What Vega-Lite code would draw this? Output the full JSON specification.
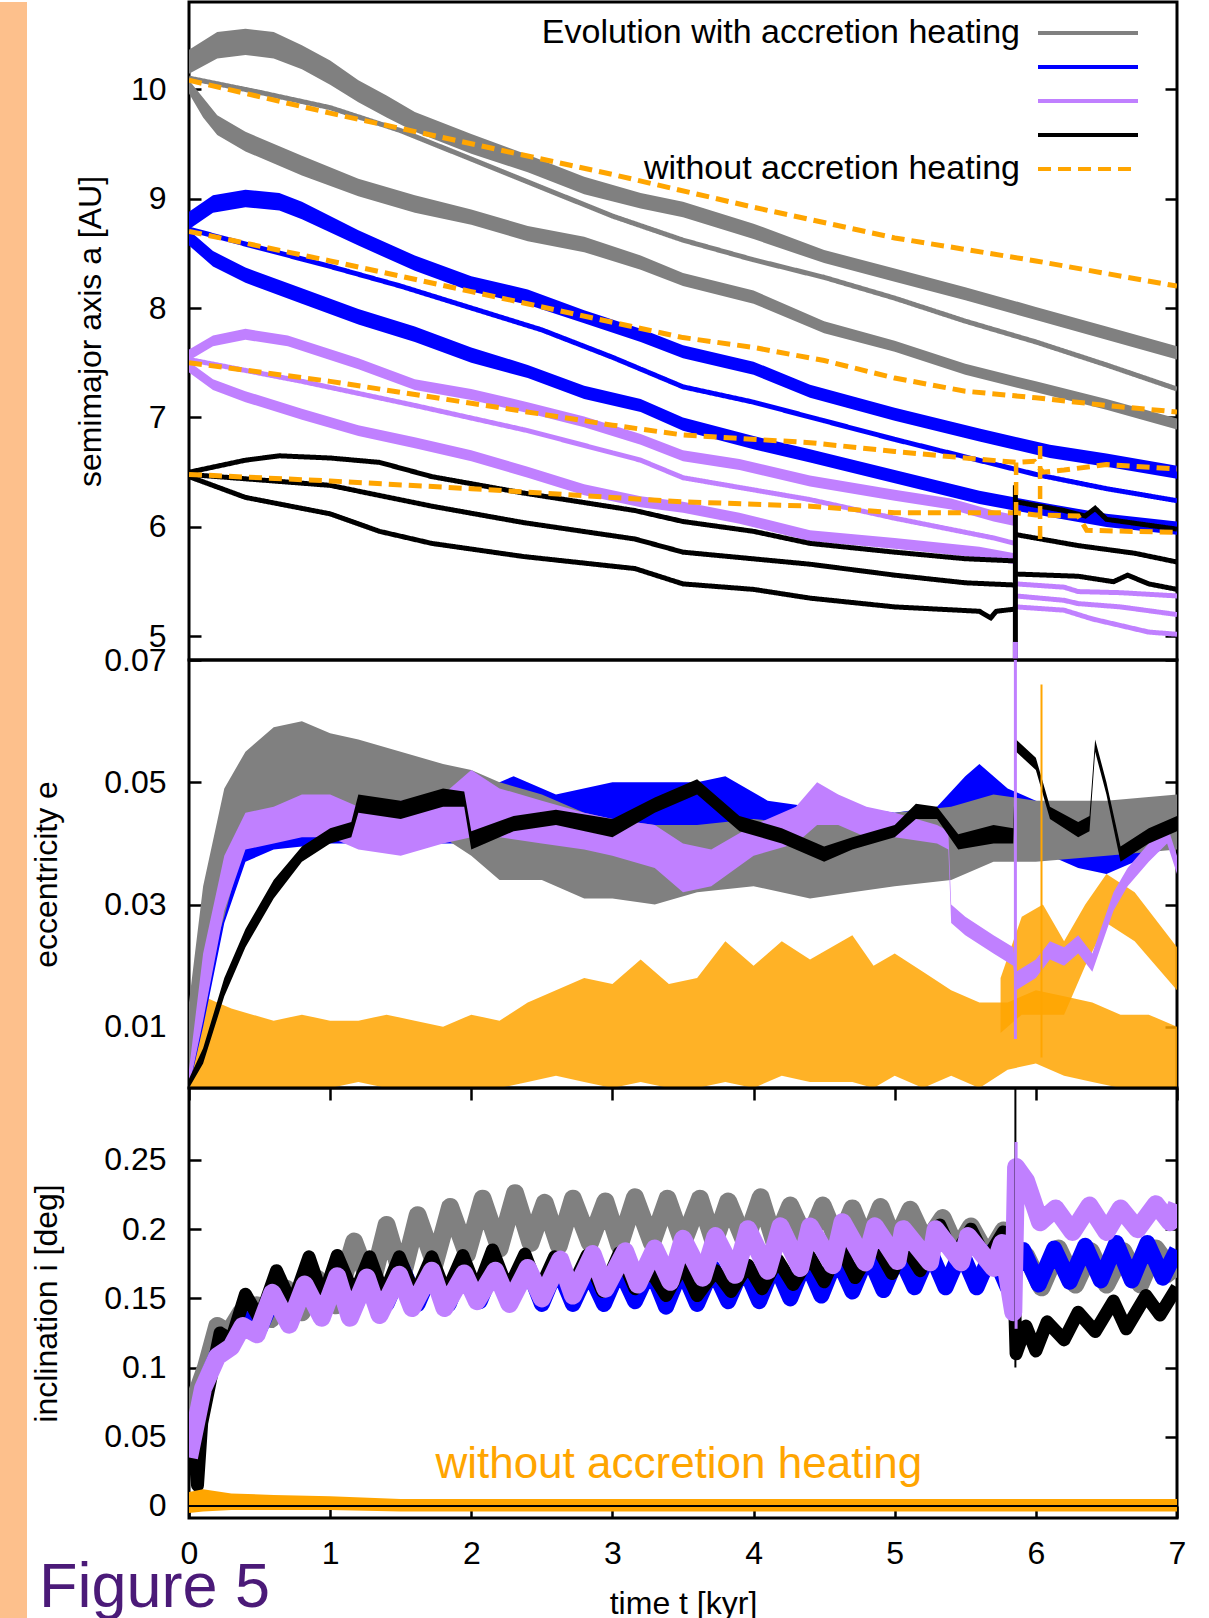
{
"$schema": "https://vega.github.io/schema/vega-lite/v6.json",
"padding": 0,
"background": "white",
"spacing": 1,
"title": {"text": "Figure 5", "orient": "bottom", "anchor": "start", "frame": "bounds", "fontSize": 63, "font": "Liberation Sans", "fontWeight": "normal", "color": "#4b1a78", "offset": -85, "dx": 39},
"config": {
 "view": {"stroke": "black", "strokeWidth": 3},
 "axis": {"domain": false, "grid": false, "ticks": true, "tickSize": -12, "tickWidth": 2.5, "tickColor": "black", "labelFont": "Liberation Sans", "labelFontSize": 32, "labelColor": "black", "labelPadding": 35, "titleFont": "Liberation Sans", "titleFontSize": 32, "titleFontWeight": "normal", "titleColor": "black", "labelFlush": false, "labelOverlap": false}
},
"datasets": {
 "ab1": [
  {"k":"u","t":0,"lo":10.14,"hi":10.36},{"k":"u","t":0.2,"lo":10.28,"hi":10.52},{"k":"u","t":0.4,"lo":10.31,"hi":10.55},{"k":"u","t":0.6,"lo":10.28,"hi":10.52},{"k":"u","t":0.8,"lo":10.18,"hi":10.4},{"k":"u","t":1,"lo":10.04,"hi":10.26},{"k":"u","t":1.2,"lo":9.88,"hi":10.08},{"k":"u","t":1.4,"lo":9.74,"hi":9.94},{"k":"u","t":1.6,"lo":9.61,"hi":9.79},{"k":"u","t":2,"lo":9.41,"hi":9.59},{"k":"u","t":2.4,"lo":9.24,"hi":9.4},{"k":"u","t":2.8,"lo":9.04,"hi":9.2},{"k":"u","t":3.2,"lo":8.91,"hi":9.05},{"k":"u","t":3.5,"lo":8.83,"hi":8.97},{"k":"u","t":4,"lo":8.63,"hi":8.77},{"k":"u","t":4.5,"lo":8.41,"hi":8.53},{"k":"u","t":5,"lo":8.24,"hi":8.36},{"k":"u","t":5.5,"lo":8.07,"hi":8.19},{"k":"u","t":6,"lo":7.89,"hi":8.01},{"k":"u","t":6.5,"lo":7.71,"hi":7.83},{"k":"u","t":7,"lo":7.53,"hi":7.65},
  {"k":"l","t":0,"lo":9.96,"hi":10.08},{"k":"l","t":0.1,"lo":9.74,"hi":9.92},{"k":"l","t":0.2,"lo":9.58,"hi":9.76},{"k":"l","t":0.4,"lo":9.43,"hi":9.61},{"k":"l","t":0.8,"lo":9.21,"hi":9.39},{"k":"l","t":1.2,"lo":9.02,"hi":9.18},{"k":"l","t":1.6,"lo":8.87,"hi":9.03},{"k":"l","t":2,"lo":8.76,"hi":8.9},{"k":"l","t":2.4,"lo":8.61,"hi":8.75},{"k":"l","t":2.8,"lo":8.51,"hi":8.65},{"k":"l","t":3.2,"lo":8.35,"hi":8.48},{"k":"l","t":3.5,"lo":8.2,"hi":8.32},{"k":"l","t":4,"lo":8.04,"hi":8.16},{"k":"l","t":4.5,"lo":7.77,"hi":7.88},{"k":"l","t":5,"lo":7.6,"hi":7.7},{"k":"l","t":5.5,"lo":7.39,"hi":7.49},{"k":"l","t":6,"lo":7.23,"hi":7.33},{"k":"l","t":6.5,"lo":7.07,"hi":7.17},{"k":"l","t":7,"lo":6.89,"hi":6.99}
 ],
 "ab2": [
  {"k":"u","t":0,"lo":8.72,"hi":8.88},{"k":"u","t":0.17,"lo":8.87,"hi":9.03},{"k":"u","t":0.4,"lo":8.92,"hi":9.08},{"k":"u","t":0.64,"lo":8.89,"hi":9.05},{"k":"u","t":0.8,"lo":8.81,"hi":8.97},{"k":"u","t":1.2,"lo":8.57,"hi":8.71},{"k":"u","t":1.6,"lo":8.34,"hi":8.48},{"k":"u","t":2,"lo":8.15,"hi":8.29},{"k":"u","t":2.4,"lo":8.03,"hi":8.17},{"k":"u","t":2.8,"lo":7.86,"hi":7.98},{"k":"u","t":3.2,"lo":7.69,"hi":7.81},{"k":"u","t":3.5,"lo":7.54,"hi":7.66},{"k":"u","t":4,"lo":7.39,"hi":7.51},{"k":"u","t":4.4,"lo":7.18,"hi":7.3},{"k":"u","t":5,"lo":6.97,"hi":7.09},{"k":"u","t":5.6,"lo":6.78,"hi":6.9},{"k":"u","t":6.1,"lo":6.63,"hi":6.75},{"k":"u","t":6.5,"lo":6.55,"hi":6.67},{"k":"u","t":7,"lo":6.44,"hi":6.56},
  {"k":"l","t":0,"lo":8.57,"hi":8.71},{"k":"l","t":0.17,"lo":8.38,"hi":8.52},{"k":"l","t":0.4,"lo":8.23,"hi":8.37},{"k":"l","t":0.8,"lo":8.04,"hi":8.18},{"k":"l","t":1.2,"lo":7.85,"hi":7.99},{"k":"l","t":1.6,"lo":7.69,"hi":7.83},{"k":"l","t":2,"lo":7.5,"hi":7.64},{"k":"l","t":2.4,"lo":7.36,"hi":7.48},{"k":"l","t":2.8,"lo":7.17,"hi":7.29},{"k":"l","t":3.2,"lo":7.05,"hi":7.17},{"k":"l","t":3.5,"lo":6.88,"hi":7},{"k":"l","t":4,"lo":6.71,"hi":6.83},{"k":"l","t":4.4,"lo":6.59,"hi":6.71},{"k":"l","t":5,"lo":6.4,"hi":6.52},{"k":"l","t":5.6,"lo":6.21,"hi":6.33},{"k":"l","t":6.1,"lo":6.09,"hi":6.21},{"k":"l","t":6.5,"lo":6,"hi":6.12},{"k":"l","t":7,"lo":5.93,"hi":6.05}
 ],
 "ab3": [
  {"k":"u","t":0,"lo":7.52,"hi":7.62},{"k":"u","t":0.17,"lo":7.65,"hi":7.75},{"k":"u","t":0.4,"lo":7.71,"hi":7.81},{"k":"u","t":0.7,"lo":7.65,"hi":7.75},{"k":"u","t":1.2,"lo":7.44,"hi":7.54},{"k":"u","t":1.6,"lo":7.25,"hi":7.35},{"k":"u","t":2,"lo":7.16,"hi":7.26},{"k":"u","t":2.4,"lo":7.04,"hi":7.14},{"k":"u","t":2.8,"lo":6.91,"hi":7.01},{"k":"u","t":3.2,"lo":6.75,"hi":6.85},{"k":"u","t":3.5,"lo":6.6,"hi":6.7},{"k":"u","t":3.9,"lo":6.52,"hi":6.62},{"k":"u","t":4.4,"lo":6.37,"hi":6.47},{"k":"u","t":5,"lo":6.24,"hi":6.34},{"k":"u","t":5.4,"lo":6.16,"hi":6.26},{"k":"u","t":5.7,"lo":6.05,"hi":6.15},{"k":"u","t":5.85,"lo":6.01,"hi":6.11},
  {"k":"l","t":0,"lo":7.41,"hi":7.51},{"k":"l","t":0.17,"lo":7.25,"hi":7.35},{"k":"l","t":0.4,"lo":7.14,"hi":7.24},{"k":"l","t":0.8,"lo":6.98,"hi":7.08},{"k":"l","t":1.2,"lo":6.83,"hi":6.93},{"k":"l","t":1.6,"lo":6.72,"hi":6.82},{"k":"l","t":2,"lo":6.6,"hi":6.7},{"k":"l","t":2.4,"lo":6.45,"hi":6.55},{"k":"l","t":2.8,"lo":6.29,"hi":6.39},{"k":"l","t":3.2,"lo":6.18,"hi":6.28},{"k":"l","t":3.5,"lo":6.13,"hi":6.23},{"k":"l","t":3.9,"lo":6.03,"hi":6.13},{"k":"l","t":4.4,"lo":5.87,"hi":5.97},{"k":"l","t":5,"lo":5.8,"hi":5.9},{"k":"l","t":5.6,"lo":5.72,"hi":5.82},{"k":"l","t":5.85,"lo":5.66,"hi":5.76}
 ],
 "aline": [
  {"s":"p1","k":"m","t":0,"v":10.1},{"s":"p1","k":"m","t":0.5,"v":9.97},{"s":"p1","k":"m","t":1,"v":9.83},{"s":"p1","k":"m","t":1.5,"v":9.62},{"s":"p1","k":"m","t":2,"v":9.36},{"s":"p1","k":"m","t":2.5,"v":9.1},{"s":"p1","k":"m","t":3,"v":8.84},{"s":"p1","k":"m","t":3.5,"v":8.62},{"s":"p1","k":"m","t":4,"v":8.44},{"s":"p1","k":"m","t":4.5,"v":8.28},{"s":"p1","k":"m","t":5,"v":8.09},{"s":"p1","k":"m","t":5.5,"v":7.88},{"s":"p1","k":"m","t":6,"v":7.69},{"s":"p1","k":"m","t":6.5,"v":7.48},{"s":"p1","k":"m","t":7,"v":7.26},
  {"s":"p2","k":"m","t":0,"v":8.72},{"s":"p2","k":"m","t":0.5,"v":8.55},{"s":"p2","k":"m","t":1,"v":8.38},{"s":"p2","k":"m","t":1.5,"v":8.2},{"s":"p2","k":"m","t":2,"v":8.0},{"s":"p2","k":"m","t":2.5,"v":7.8},{"s":"p2","k":"m","t":3,"v":7.55},{"s":"p2","k":"m","t":3.5,"v":7.28},{"s":"p2","k":"m","t":4,"v":7.14},{"s":"p2","k":"m","t":4.5,"v":6.97},{"s":"p2","k":"m","t":5,"v":6.8},{"s":"p2","k":"m","t":5.5,"v":6.64},{"s":"p2","k":"m","t":6,"v":6.48},{"s":"p2","k":"m","t":6.5,"v":6.35},{"s":"p2","k":"m","t":7,"v":6.24},
  {"s":"p3","k":"m","t":0,"v":7.53},{"s":"p3","k":"m","t":0.8,"v":7.33},{"s":"p3","k":"m","t":1.6,"v":7.11},{"s":"p3","k":"m","t":2.4,"v":6.88},{"s":"p3","k":"m","t":3.2,"v":6.61},{"s":"p3","k":"m","t":3.5,"v":6.45},{"s":"p3","k":"m","t":4.4,"v":6.25},{"s":"p3","k":"m","t":5,"v":6.08},{"s":"p3","k":"m","t":5.7,"v":5.9},{"s":"p3","k":"m","t":5.85,"v":5.85},
  {"s":"p3","k":"a","t":5.86,"v":5.48},{"s":"p3","k":"a","t":6.2,"v":5.45},{"s":"p3","k":"a","t":6.3,"v":5.41},{"s":"p3","k":"a","t":6.6,"v":5.4},{"s":"p3","k":"a","t":7,"v":5.37},
  {"s":"p3","k":"b","t":5.86,"v":5.37},{"s":"p3","k":"b","t":6.2,"v":5.33},{"s":"p3","k":"b","t":6.3,"v":5.3},{"s":"p3","k":"b","t":6.6,"v":5.27},{"s":"p3","k":"b","t":7,"v":5.2},
  {"s":"p3","k":"c","t":5.86,"v":5.27},{"s":"p3","k":"c","t":6.2,"v":5.24},{"s":"p3","k":"c","t":6.4,"v":5.16},{"s":"p3","k":"c","t":6.6,"v":5.1},{"s":"p3","k":"c","t":6.8,"v":5.04},{"s":"p3","k":"c","t":7,"v":5.02},
  {"s":"p4","k":"u","t":0,"v":6.5},{"s":"p4","k":"u","t":0.4,"v":6.61},{"s":"p4","k":"u","t":0.64,"v":6.65},{"s":"p4","k":"u","t":1,"v":6.63},{"s":"p4","k":"u","t":1.35,"v":6.59},{"s":"p4","k":"u","t":1.72,"v":6.46},{"s":"p4","k":"u","t":2.37,"v":6.31},{"s":"p4","k":"u","t":3.16,"v":6.15},{"s":"p4","k":"u","t":3.5,"v":6.05},{"s":"p4","k":"u","t":4,"v":5.96},{"s":"p4","k":"u","t":4.4,"v":5.85},{"s":"p4","k":"u","t":5,"v":5.77},{"s":"p4","k":"u","t":5.5,"v":5.71},{"s":"p4","k":"u","t":5.85,"v":5.69},
  {"s":"p4","k":"m","t":0,"v":6.48},{"s":"p4","k":"m","t":1,"v":6.38},{"s":"p4","k":"m","t":1.72,"v":6.19},{"s":"p4","k":"m","t":2.37,"v":6.04},{"s":"p4","k":"m","t":3.16,"v":5.89},{"s":"p4","k":"m","t":3.5,"v":5.77},{"s":"p4","k":"m","t":4.4,"v":5.66},{"s":"p4","k":"m","t":5,"v":5.56},{"s":"p4","k":"m","t":5.5,"v":5.49},{"s":"p4","k":"m","t":5.85,"v":5.47},
  {"s":"p4","k":"l","t":0,"v":6.46},{"s":"p4","k":"l","t":0.4,"v":6.27},{"s":"p4","k":"l","t":1,"v":6.12},{"s":"p4","k":"l","t":1.35,"v":5.96},{"s":"p4","k":"l","t":1.72,"v":5.85},{"s":"p4","k":"l","t":2.37,"v":5.73},{"s":"p4","k":"l","t":3.16,"v":5.62},{"s":"p4","k":"l","t":3.5,"v":5.48},{"s":"p4","k":"l","t":4,"v":5.43},{"s":"p4","k":"l","t":4.4,"v":5.35},{"s":"p4","k":"l","t":5,"v":5.27},{"s":"p4","k":"l","t":5.6,"v":5.23},{"s":"p4","k":"l","t":5.68,"v":5.17},{"s":"p4","k":"l","t":5.72,"v":5.23},{"s":"p4","k":"l","t":5.85,"v":5.25},
  {"s":"p4","k":"a","t":5.86,"v":6.23},{"s":"p4","k":"a","t":6.2,"v":6.15},{"s":"p4","k":"a","t":6.35,"v":6.1},{"s":"p4","k":"a","t":6.42,"v":6.17},{"s":"p4","k":"a","t":6.5,"v":6.07},{"s":"p4","k":"a","t":7,"v":5.98},
  {"s":"p4","k":"b","t":5.86,"v":5.93},{"s":"p4","k":"b","t":6.3,"v":5.83},{"s":"p4","k":"b","t":6.7,"v":5.76},{"s":"p4","k":"b","t":7,"v":5.68},
  {"s":"p4","k":"c","t":5.86,"v":5.57},{"s":"p4","k":"c","t":6.3,"v":5.55},{"s":"p4","k":"c","t":6.55,"v":5.5},{"s":"p4","k":"c","t":6.65,"v":5.56},{"s":"p4","k":"c","t":6.8,"v":5.48},{"s":"p4","k":"c","t":7,"v":5.43},
  {"s":"nh","k":"1","t":0,"v":10.08},{"s":"nh","k":"1","t":1,"v":9.78},{"s":"nh","k":"1","t":2,"v":9.5},{"s":"nh","k":"1","t":3,"v":9.22},{"s":"nh","k":"1","t":4,"v":8.92},{"s":"nh","k":"1","t":5,"v":8.64},{"s":"nh","k":"1","t":6,"v":8.43},{"s":"nh","k":"1","t":7,"v":8.2},
  {"s":"nh","k":"2","t":0,"v":8.7},{"s":"nh","k":"2","t":1,"v":8.43},{"s":"nh","k":"2","t":2,"v":8.15},{"s":"nh","k":"2","t":3,"v":7.87},{"s":"nh","k":"2","t":3.5,"v":7.73},{"s":"nh","k":"2","t":4,"v":7.64},{"s":"nh","k":"2","t":4.5,"v":7.52},{"s":"nh","k":"2","t":5,"v":7.36},{"s":"nh","k":"2","t":5.5,"v":7.24},{"s":"nh","k":"2","t":6,"v":7.18},{"s":"nh","k":"2","t":6.5,"v":7.11},{"s":"nh","k":"2","t":7,"v":7.05},
  {"s":"nh","k":"3","t":0,"v":7.5},{"s":"nh","k":"3","t":1,"v":7.33},{"s":"nh","k":"3","t":2,"v":7.13},{"s":"nh","k":"3","t":3,"v":6.93},{"s":"nh","k":"3","t":3.5,"v":6.84},{"s":"nh","k":"3","t":4.4,"v":6.77},{"s":"nh","k":"3","t":5,"v":6.69},{"s":"nh","k":"3","t":5.5,"v":6.63},{"s":"nh","k":"3","t":5.86,"v":6.59},{"s":"nh","k":"3","t":5.99,"v":6.6},{"s":"nh","k":"3","t":6.05,"v":6.5},{"s":"nh","k":"3","t":6.2,"v":6.52},{"s":"nh","k":"3","t":6.5,"v":6.57},{"s":"nh","k":"3","t":7,"v":6.53},
  {"s":"nh","k":"4","t":0,"v":6.48},{"s":"nh","k":"4","t":1,"v":6.42},{"s":"nh","k":"4","t":2,"v":6.35},{"s":"nh","k":"4","t":3,"v":6.27},{"s":"nh","k":"4","t":3.5,"v":6.23},{"s":"nh","k":"4","t":4.4,"v":6.19},{"s":"nh","k":"4","t":5,"v":6.13},{"s":"nh","k":"4","t":5.86,"v":6.13},{"s":"nh","k":"4","t":6,"v":6.11},{"s":"nh","k":"4","t":6.3,"v":6.1},{"s":"nh","k":"4","t":6.36,"v":5.97},{"s":"nh","k":"4","t":7,"v":5.95}
 ],
 "eg": [
  {"t":0,"lo":0,"hi":0.014},{"t":0.1,"lo":0.017,"hi":0.033},{"t":0.25,"lo":0.028,"hi":0.049},{"t":0.4,"lo":0.041,"hi":0.055},{"t":0.6,"lo":0.045,"hi":0.059},{"t":0.8,"lo":0.046,"hi":0.06},{"t":1,"lo":0.046,"hi":0.058},{"t":1.2,"lo":0.046,"hi":0.057},{"t":1.5,"lo":0.044,"hi":0.055},{"t":1.8,"lo":0.041,"hi":0.053},{"t":2,"lo":0.038,"hi":0.052},{"t":2.2,"lo":0.034,"hi":0.05},{"t":2.5,"lo":0.034,"hi":0.048},{"t":2.8,"lo":0.031,"hi":0.045},{"t":3,"lo":0.031,"hi":0.044},{"t":3.3,"lo":0.03,"hi":0.043},{"t":3.6,"lo":0.032,"hi":0.043},{"t":4,"lo":0.033,"hi":0.044},{"t":4.4,"lo":0.031,"hi":0.043},{"t":4.7,"lo":0.032,"hi":0.044},{"t":5,"lo":0.033,"hi":0.045},{"t":5.4,"lo":0.034,"hi":0.046},{"t":5.7,"lo":0.037,"hi":0.048},{"t":6,"lo":0.037,"hi":0.047},{"t":6.5,"lo":0.038,"hi":0.047},{"t":7,"lo":0.039,"hi":0.048}
 ],
 "ep": [
  {"t":0,"lo":0,"hi":0.003},{"t":0.1,"lo":0.011,"hi":0.022},{"t":0.25,"lo":0.029,"hi":0.038},{"t":0.4,"lo":0.039,"hi":0.045},{"t":0.6,"lo":0.04,"hi":0.046},{"t":0.8,"lo":0.041,"hi":0.048},{"t":1,"lo":0.041,"hi":0.048},{"t":1.2,"lo":0.039,"hi":0.046},{"t":1.5,"lo":0.038,"hi":0.047},{"t":1.8,"lo":0.04,"hi":0.048},{"t":2,"lo":0.041,"hi":0.052},{"t":2.2,"lo":0.041,"hi":0.049},{"t":2.5,"lo":0.04,"hi":0.047},{"t":2.8,"lo":0.039,"hi":0.045},{"t":3,"lo":0.038,"hi":0.044},{"t":3.3,"lo":0.036,"hi":0.043},{"t":3.5,"lo":0.032,"hi":0.04},{"t":3.7,"lo":0.033,"hi":0.039},{"t":4,"lo":0.038,"hi":0.043},{"t":4.3,"lo":0.04,"hi":0.046},{"t":4.45,"lo":0.043,"hi":0.05},{"t":4.6,"lo":0.043,"hi":0.048},{"t":4.8,"lo":0.041,"hi":0.046},{"t":5,"lo":0.041,"hi":0.045},{"t":5.3,"lo":0.04,"hi":0.043},{"t":5.38,"lo":0.039,"hi":0.042},{"t":5.4,"lo":0.027,"hi":0.03},{"t":5.5,"lo":0.025,"hi":0.028},{"t":5.7,"lo":0.022,"hi":0.025},{"t":5.84,"lo":0.02,"hi":0.023},{"t":5.86,"lo":0.016,"hi":0.019},{"t":6,"lo":0.018,"hi":0.021},{"t":6.1,"lo":0.021,"hi":0.024},{"t":6.2,"lo":0.02,"hi":0.023},{"t":6.3,"lo":0.022,"hi":0.025},{"t":6.4,"lo":0.019,"hi":0.022},{"t":6.55,"lo":0.029,"hi":0.032},{"t":6.65,"lo":0.033,"hi":0.036},{"t":6.8,"lo":0.037,"hi":0.04},{"t":6.93,"lo":0.04,"hi":0.043},{"t":7,"lo":0.035,"hi":0.038}
 ],
 "eb": [
  {"t":0,"lo":0,"hi":0.004},{"t":0.1,"lo":0.01,"hi":0.02},{"t":0.25,"lo":0.027,"hi":0.036},{"t":0.4,"lo":0.037,"hi":0.043},{"t":0.6,"lo":0.039,"hi":0.045},{"t":1,"lo":0.04,"hi":0.046},{"t":1.5,"lo":0.04,"hi":0.047},{"t":2,"lo":0.04,"hi":0.048},{"t":2.3,"lo":0.041,"hi":0.051},{"t":2.6,"lo":0.04,"hi":0.048},{"t":3,"lo":0.041,"hi":0.05},{"t":3.3,"lo":0.041,"hi":0.05},{"t":3.6,"lo":0.042,"hi":0.05},{"t":3.8,"lo":0.042,"hi":0.051},{"t":4.1,"lo":0.04,"hi":0.047},{"t":4.4,"lo":0.039,"hi":0.046},{"t":4.7,"lo":0.039,"hi":0.046},{"t":5,"lo":0.038,"hi":0.045},{"t":5.3,"lo":0.039,"hi":0.046},{"t":5.5,"lo":0.041,"hi":0.051},{"t":5.6,"lo":0.042,"hi":0.053},{"t":5.8,"lo":0.041,"hi":0.049},{"t":6,"lo":0.039,"hi":0.047},{"t":6.3,"lo":0.036,"hi":0.045},{"t":6.5,"lo":0.035,"hi":0.044},{"t":6.8,"lo":0.038,"hi":0.046},{"t":7,"lo":0.04,"hi":0.046}
 ],
 "ek": [
  {"t":0,"lo":0,"hi":0.0015},{"t":0.1,"lo":0.004,"hi":0.0065},{"t":0.25,"lo":0.015,"hi":0.018},{"t":0.4,"lo":0.023,"hi":0.026},{"t":0.6,"lo":0.031,"hi":0.034},{"t":0.8,"lo":0.037,"hi":0.0395},{"t":1,"lo":0.04,"hi":0.0425},{"t":1.15,"lo":0.041,"hi":0.0435},{"t":1.2,"lo":0.045,"hi":0.048},{"t":1.5,"lo":0.044,"hi":0.047},{"t":1.8,"lo":0.046,"hi":0.049},{"t":1.95,"lo":0.046,"hi":0.0485},{"t":2,"lo":0.039,"hi":0.042},{"t":2.3,"lo":0.042,"hi":0.0445},{"t":2.6,"lo":0.043,"hi":0.0455},{"t":3,"lo":0.041,"hi":0.044},{"t":3.3,"lo":0.045,"hi":0.0475},{"t":3.6,"lo":0.048,"hi":0.0505},{"t":3.9,"lo":0.042,"hi":0.0445},{"t":4.2,"lo":0.04,"hi":0.0425},{"t":4.5,"lo":0.037,"hi":0.0395},{"t":4.7,"lo":0.039,"hi":0.041},{"t":5,"lo":0.041,"hi":0.043},{"t":5.15,"lo":0.044,"hi":0.0465},{"t":5.3,"lo":0.044,"hi":0.046},{"t":5.45,"lo":0.039,"hi":0.0415},{"t":5.7,"lo":0.04,"hi":0.043},{"t":5.84,"lo":0.04,"hi":0.0425},{"t":5.86,"lo":0.055,"hi":0.057},{"t":6,"lo":0.052,"hi":0.054},{"t":6.1,"lo":0.044,"hi":0.046},{"t":6.3,"lo":0.041,"hi":0.0435},{"t":6.38,"lo":0.042,"hi":0.0445},{"t":6.42,"lo":0.055,"hi":0.057},{"t":6.5,"lo":0.048,"hi":0.05},{"t":6.6,"lo":0.037,"hi":0.0395},{"t":6.8,"lo":0.04,"hi":0.0425},{"t":7,"lo":0.042,"hi":0.0445}
 ],
 "eo": [
  {"k":"m","t":0,"lo":0,"hi":0.0005},{"k":"m","t":0.05,"lo":0,"hi":0.012},{"k":"m","t":0.1,"lo":0,"hi":0.015},{"k":"m","t":0.2,"lo":0,"hi":0.014},{"k":"m","t":0.3,"lo":0,"hi":0.013},{"k":"m","t":0.45,"lo":0,"hi":0.012},{"k":"m","t":0.6,"lo":0,"hi":0.011},{"k":"m","t":0.8,"lo":0,"hi":0.012},{"k":"m","t":1,"lo":0,"hi":0.011},{"k":"m","t":1.2,"lo":0.001,"hi":0.011},{"k":"m","t":1.4,"lo":0,"hi":0.012},{"k":"m","t":1.6,"lo":0,"hi":0.011},{"k":"m","t":1.8,"lo":0,"hi":0.01},{"k":"m","t":2,"lo":0,"hi":0.012},{"k":"m","t":2.2,"lo":0,"hi":0.011},{"k":"m","t":2.4,"lo":0.001,"hi":0.014},{"k":"m","t":2.6,"lo":0.002,"hi":0.016},{"k":"m","t":2.8,"lo":0.001,"hi":0.018},{"k":"m","t":3,"lo":0,"hi":0.017},{"k":"m","t":3.2,"lo":0.001,"hi":0.021},{"k":"m","t":3.4,"lo":0,"hi":0.017},{"k":"m","t":3.6,"lo":0,"hi":0.018},{"k":"m","t":3.8,"lo":0.001,"hi":0.024},{"k":"m","t":4,"lo":0,"hi":0.02},{"k":"m","t":4.2,"lo":0.002,"hi":0.024},{"k":"m","t":4.4,"lo":0.001,"hi":0.021},{"k":"m","t":4.7,"lo":0.001,"hi":0.025},{"k":"m","t":4.85,"lo":0,"hi":0.02},{"k":"m","t":5,"lo":0.002,"hi":0.022},{"k":"m","t":5.2,"lo":0,"hi":0.019},{"k":"m","t":5.4,"lo":0.002,"hi":0.016},{"k":"m","t":5.6,"lo":0,"hi":0.014},{"k":"m","t":5.8,"lo":0.003,"hi":0.014},{"k":"m","t":6,"lo":0.004,"hi":0.016},{"k":"m","t":6.2,"lo":0.002,"hi":0.015},{"k":"m","t":6.4,"lo":0.001,"hi":0.014},{"k":"m","t":6.6,"lo":0,"hi":0.012},{"k":"m","t":6.8,"lo":0,"hi":0.012},{"k":"m","t":7,"lo":0,"hi":0.01},
  {"k":"s","t":5.75,"lo":0.009,"hi":0.018},{"k":"s","t":5.9,"lo":0.012,"hi":0.028},{"k":"s","t":6.05,"lo":0.012,"hi":0.03},{"k":"s","t":6.2,"lo":0.012,"hi":0.024},{"k":"s","t":6.35,"lo":0.02,"hi":0.03},{"k":"s","t":6.5,"lo":0.027,"hi":0.035},{"k":"s","t":6.7,"lo":0.024,"hi":0.032},{"k":"s","t":7,"lo":0.016,"hi":0.023}
 ],
 "ig": [
  {"t":0,"v":0.05},{"t":0.05,"v":0.08},{"t":0.12,"v":0.1},{"t":0.2,"v":0.13},{"t":0.28,"v":0.125},{"t":0.37,"v":0.14},{"t":0.43,"v":0.13},{"t":0.48,"v":0.145},{"t":0.58,"v":0.135},{"t":0.69,"v":0.157},{"t":0.8,"v":0.14},{"t":0.91,"v":0.164},{"t":1.04,"v":0.145},{"t":1.17,"v":0.191},{"t":1.29,"v":0.158},{"t":1.4,"v":0.203},{"t":1.51,"v":0.165},{"t":1.62,"v":0.21},{"t":1.74,"v":0.175},{"t":1.85,"v":0.216},{"t":1.97,"v":0.182},{"t":2.08,"v":0.222},{"t":2.2,"v":0.186},{"t":2.31,"v":0.226},{"t":2.42,"v":0.19},{"t":2.52,"v":0.219},{"t":2.62,"v":0.188},{"t":2.72,"v":0.222},{"t":2.84,"v":0.19},{"t":2.95,"v":0.22},{"t":3.05,"v":0.188},{"t":3.16,"v":0.223},{"t":3.28,"v":0.19},{"t":3.39,"v":0.222},{"t":3.5,"v":0.19},{"t":3.62,"v":0.222},{"t":3.72,"v":0.19},{"t":3.82,"v":0.22},{"t":3.94,"v":0.19},{"t":4.05,"v":0.223},{"t":4.15,"v":0.19},{"t":4.26,"v":0.217},{"t":4.38,"v":0.19},{"t":4.49,"v":0.217},{"t":4.6,"v":0.19},{"t":4.7,"v":0.215},{"t":4.8,"v":0.19},{"t":4.9,"v":0.216},{"t":5,"v":0.19},{"t":5.11,"v":0.214},{"t":5.22,"v":0.19},{"t":5.34,"v":0.208},{"t":5.44,"v":0.185},{"t":5.54,"v":0.202},{"t":5.66,"v":0.18},{"t":5.77,"v":0.199},{"t":5.85,"v":0.175},{"t":5.93,"v":0.181},{"t":6.04,"v":0.158},{"t":6.16,"v":0.186},{"t":6.28,"v":0.16},{"t":6.39,"v":0.184},{"t":6.5,"v":0.16},{"t":6.62,"v":0.184},{"t":6.74,"v":0.16},{"t":6.85,"v":0.186},{"t":7,"v":0.165}
 ],
 "ib": [
  {"t":0,"v":0.035},{"t":0.1,"v":0.085},{"t":0.2,"v":0.11},{"t":0.3,"v":0.12},{"t":0.4,"v":0.135},{"t":0.5,"v":0.128},{"t":0.62,"v":0.155},{"t":0.73,"v":0.138},{"t":0.85,"v":0.165},{"t":0.95,"v":0.142},{"t":1.07,"v":0.168},{"t":1.18,"v":0.145},{"t":1.29,"v":0.17},{"t":1.4,"v":0.146},{"t":1.51,"v":0.172},{"t":1.62,"v":0.146},{"t":1.73,"v":0.172},{"t":1.84,"v":0.146},{"t":1.95,"v":0.174},{"t":2.06,"v":0.148},{"t":2.17,"v":0.175},{"t":2.28,"v":0.148},{"t":2.39,"v":0.175},{"t":2.5,"v":0.146},{"t":2.61,"v":0.173},{"t":2.72,"v":0.146},{"t":2.83,"v":0.17},{"t":2.94,"v":0.146},{"t":3.05,"v":0.172},{"t":3.16,"v":0.148},{"t":3.27,"v":0.172},{"t":3.38,"v":0.144},{"t":3.49,"v":0.172},{"t":3.6,"v":0.146},{"t":3.71,"v":0.172},{"t":3.82,"v":0.148},{"t":3.93,"v":0.174},{"t":4.04,"v":0.148},{"t":4.15,"v":0.176},{"t":4.26,"v":0.15},{"t":4.37,"v":0.178},{"t":4.48,"v":0.152},{"t":4.59,"v":0.18},{"t":4.7,"v":0.155},{"t":4.81,"v":0.182},{"t":4.92,"v":0.156},{"t":5.03,"v":0.182},{"t":5.14,"v":0.158},{"t":5.25,"v":0.184},{"t":5.36,"v":0.158},{"t":5.47,"v":0.184},{"t":5.58,"v":0.158},{"t":5.69,"v":0.184},{"t":5.8,"v":0.158},{"t":5.91,"v":0.185},{"t":6.02,"v":0.16},{"t":6.13,"v":0.186},{"t":6.24,"v":0.162},{"t":6.35,"v":0.188},{"t":6.46,"v":0.163},{"t":6.57,"v":0.19},{"t":6.68,"v":0.163},{"t":6.79,"v":0.19},{"t":6.9,"v":0.165},{"t":7,"v":0.185}
 ],
 "ik": [
  {"t":0,"v":0.03},{"t":0.03,"v":0.05},{"t":0.06,"v":0.015},{"t":0.09,"v":0.06},{"t":0.15,"v":0.09},{"t":0.22,"v":0.125},{"t":0.3,"v":0.12},{"t":0.4,"v":0.153},{"t":0.5,"v":0.135},{"t":0.62,"v":0.17},{"t":0.73,"v":0.145},{"t":0.85,"v":0.18},{"t":0.95,"v":0.15},{"t":1.05,"v":0.181},{"t":1.17,"v":0.152},{"t":1.28,"v":0.18},{"t":1.38,"v":0.152},{"t":1.49,"v":0.18},{"t":1.6,"v":0.152},{"t":1.72,"v":0.18},{"t":1.82,"v":0.153},{"t":1.94,"v":0.181},{"t":2.04,"v":0.155},{"t":2.15,"v":0.185},{"t":2.26,"v":0.156},{"t":2.38,"v":0.182},{"t":2.48,"v":0.155},{"t":2.59,"v":0.18},{"t":2.7,"v":0.155},{"t":2.82,"v":0.181},{"t":2.93,"v":0.155},{"t":3.05,"v":0.183},{"t":3.16,"v":0.157},{"t":3.27,"v":0.17},{"t":3.38,"v":0.152},{"t":3.5,"v":0.174},{"t":3.6,"v":0.152},{"t":3.73,"v":0.17},{"t":3.84,"v":0.155},{"t":3.96,"v":0.174},{"t":4.06,"v":0.157},{"t":4.17,"v":0.178},{"t":4.28,"v":0.16},{"t":4.4,"v":0.18},{"t":4.5,"v":0.162},{"t":4.61,"v":0.188},{"t":4.72,"v":0.165},{"t":4.86,"v":0.19},{"t":4.98,"v":0.168},{"t":5.07,"v":0.188},{"t":5.18,"v":0.17},{"t":5.32,"v":0.203},{"t":5.42,"v":0.18},{"t":5.54,"v":0.2},{"t":5.65,"v":0.178},{"t":5.77,"v":0.198},{"t":5.84,"v":0.18},{"t":5.86,"v":0.11},{"t":5.93,"v":0.13},{"t":6,"v":0.112},{"t":6.08,"v":0.133},{"t":6.2,"v":0.12},{"t":6.3,"v":0.14},{"t":6.42,"v":0.126},{"t":6.55,"v":0.148},{"t":6.64,"v":0.128},{"t":6.78,"v":0.152},{"t":6.88,"v":0.138},{"t":7,"v":0.158}
 ],
 "ip": [
  {"t":0,"v":0.035},{"t":0.05,"v":0.06},{"t":0.1,"v":0.085},{"t":0.2,"v":0.108},{"t":0.3,"v":0.115},{"t":0.38,"v":0.13},{"t":0.48,"v":0.124},{"t":0.59,"v":0.154},{"t":0.71,"v":0.131},{"t":0.82,"v":0.16},{"t":0.94,"v":0.136},{"t":1.05,"v":0.166},{"t":1.14,"v":0.136},{"t":1.26,"v":0.165},{"t":1.35,"v":0.138},{"t":1.49,"v":0.167},{"t":1.58,"v":0.143},{"t":1.72,"v":0.17},{"t":1.81,"v":0.143},{"t":1.95,"v":0.168},{"t":2.04,"v":0.148},{"t":2.17,"v":0.17},{"t":2.27,"v":0.146},{"t":2.4,"v":0.172},{"t":2.5,"v":0.15},{"t":2.63,"v":0.178},{"t":2.72,"v":0.152},{"t":2.86,"v":0.182},{"t":2.95,"v":0.157},{"t":3.09,"v":0.184},{"t":3.18,"v":0.16},{"t":3.3,"v":0.186},{"t":3.41,"v":0.162},{"t":3.5,"v":0.193},{"t":3.64,"v":0.165},{"t":3.73,"v":0.195},{"t":3.87,"v":0.167},{"t":3.96,"v":0.2},{"t":4.1,"v":0.17},{"t":4.19,"v":0.202},{"t":4.33,"v":0.172},{"t":4.4,"v":0.202},{"t":4.56,"v":0.174},{"t":4.63,"v":0.205},{"t":4.79,"v":0.176},{"t":4.86,"v":0.202},{"t":5.02,"v":0.177},{"t":5.06,"v":0.2},{"t":5.25,"v":0.176},{"t":5.29,"v":0.2},{"t":5.47,"v":0.176},{"t":5.52,"v":0.195},{"t":5.7,"v":0.172},{"t":5.76,"v":0.19},{"t":5.84,"v":0.14},{"t":5.86,"v":0.245},{"t":5.93,"v":0.235},{"t":6.03,"v":0.205},{"t":6.14,"v":0.215},{"t":6.26,"v":0.198},{"t":6.38,"v":0.217},{"t":6.5,"v":0.198},{"t":6.6,"v":0.215},{"t":6.72,"v":0.2},{"t":6.85,"v":0.218},{"t":6.95,"v":0.205},{"t":7,"v":0.218}
 ],
 "io": [
  {"t":0,"lo":-0.005,"hi":0.01},{"t":0.1,"lo":-0.004,"hi":0.012},{"t":0.3,"lo":-0.003,"hi":0.009},{"t":0.6,"lo":-0.003,"hi":0.008},{"t":1,"lo":-0.003,"hi":0.007},{"t":1.5,"lo":-0.004,"hi":0.005},{"t":2,"lo":-0.004,"hi":0.005},{"t":3,"lo":-0.004,"hi":0.005},{"t":4,"lo":-0.004,"hi":0.005},{"t":5,"lo":-0.004,"hi":0.005},{"t":6,"lo":-0.004,"hi":0.005},{"t":7,"lo":-0.004,"hi":0.005}
 ]
},
"hconcat": [
 {"width": 27, "height": 1640, "view": {"fill": "#fdc08c", "stroke": null}, "data": {"values": [{}]}, "mark": {"type": "point", "opacity": 0}},
 {"vconcat": [
  {"width": 988, "height": 658,
   "layer": [
    {"layer": [
     {"data": {"name": "ab1"}, "mark": {"type": "area", "color": "#808080", "clip": true},
      "encoding": {"x": {"field": "t", "type": "quantitative", "scale": {"domain": [0, 7], "nice": false}, "axis": null},
       "y": {"field": "lo", "type": "quantitative", "scale": {"domain": [4.785, 10.795], "nice": false, "zero": false}, "axis": {"values": [5, 6, 7, 8, 9, 10], "title": "semimajor axis a [AU]", "titleX": -82, "titleBaseline": "bottom"}},
       "y2": {"field": "hi"}, "detail": {"field": "k"}}},
     {"data": {"name": "ab2"}, "mark": {"type": "area", "color": "#0000ff", "clip": true},
      "encoding": {"x": {"field": "t", "type": "quantitative", "scale": {"domain": [0, 7], "nice": false}, "axis": null},
       "y": {"field": "lo", "type": "quantitative", "scale": {"domain": [4.785, 10.795], "nice": false, "zero": false}, "axis": {"values": [5, 6, 7, 8, 9, 10], "title": "semimajor axis a [AU]", "titleX": -82, "titleBaseline": "bottom"}},
       "y2": {"field": "hi"}, "detail": {"field": "k"}}},
     {"data": {"name": "ab3"}, "mark": {"type": "area", "color": "#c080ff", "clip": true},
      "encoding": {"x": {"field": "t", "type": "quantitative", "scale": {"domain": [0, 7], "nice": false}, "axis": null},
       "y": {"field": "lo", "type": "quantitative", "scale": {"domain": [4.785, 10.795], "nice": false, "zero": false}, "axis": {"values": [5, 6, 7, 8, 9, 10], "title": "semimajor axis a [AU]", "titleX": -82, "titleBaseline": "bottom"}},
       "y2": {"field": "hi"}, "detail": {"field": "k"}}},
     {"data": {"name": "aline"}, "mark": {"type": "line", "strokeWidth": 5, "clip": true},
      "encoding": {"x": {"field": "t", "type": "quantitative", "scale": {"domain": [0, 7], "nice": false}, "axis": null},
       "y": {"field": "v", "type": "quantitative", "scale": {"domain": [4.785, 10.795], "nice": false, "zero": false}, "axis": {"values": [5, 6, 7, 8, 9, 10], "title": "semimajor axis a [AU]", "titleX": -82, "titleBaseline": "bottom"}},
       "color": {"field": "s", "type": "nominal", "scale": {"domain": ["p1", "p2", "p3", "p4", "nh"], "range": ["#808080", "#0000ff", "#c080ff", "#000000", "#ffa500"]},
        "legend": {"orient": "top-right", "title": null, "labelExpr": "datum.value == 'p1' ? 'Evolution with accretion heating' : (datum.value == 'nh' ? 'without accretion heating' : '')", "symbolType": "M-5,0L5,0M6.7,0L6.7,0", "symbolSize": 400, "symbolStrokeWidth": 4, "labelFont": "Liberation Sans", "labelFontSize": 34, "labelColor": "black", "labelAlign": "right", "labelOffset": -85, "labelLimit": 1000, "rowPadding": 0, "offset": 14, "padding": 0}},
       "strokeDash": {"field": "s", "type": "nominal", "scale": {"domain": ["p1", "p2", "p3", "p4", "nh"], "range": [[1, 0], [1, 0], [1, 0], [1, 0], [13, 7]]},
        "legend": {"orient": "top-right", "title": null, "labelExpr": "datum.value == 'p1' ? 'Evolution with accretion heating' : (datum.value == 'nh' ? 'without accretion heating' : '')", "symbolType": "M-5,0L5,0M6.7,0L6.7,0", "symbolSize": 400, "symbolStrokeWidth": 4, "labelFont": "Liberation Sans", "labelFontSize": 34, "labelColor": "black", "labelAlign": "right", "labelOffset": -85, "labelLimit": 1000, "rowPadding": 0, "offset": 14, "padding": 0}},
       "detail": {"field": "k"}}},
     {"data": {"values": [{"t": 5.855, "lo": 4.7, "hi": 6.38}]}, "mark": {"type": "rule", "color": "black", "strokeWidth": 5, "clip": true},
      "encoding": {"x": {"field": "t", "type": "quantitative", "scale": {"domain": [0, 7], "nice": false}, "axis": null},
       "y": {"field": "lo", "type": "quantitative", "scale": {"domain": [4.785, 10.795], "nice": false, "zero": false}, "axis": {"values": [5, 6, 7, 8, 9, 10], "title": "semimajor axis a [AU]", "titleX": -82, "titleBaseline": "bottom"}}, "y2": {"field": "hi"}}},
     {"data": {"values": [{"t": 5.855, "lo": 4.7, "hi": 4.95}]}, "mark": {"type": "rule", "color": "#c080ff", "strokeWidth": 5, "clip": true},
      "encoding": {"x": {"field": "t", "type": "quantitative", "scale": {"domain": [0, 7], "nice": false}, "axis": null},
       "y": {"field": "lo", "type": "quantitative", "scale": {"domain": [4.785, 10.795], "nice": false, "zero": false}, "axis": {"values": [5, 6, 7, 8, 9, 10], "title": "semimajor axis a [AU]", "titleX": -82, "titleBaseline": "bottom"}}, "y2": {"field": "hi"}}},
     {"data": {"values": [{"t": 5.86, "lo": 6.11, "hi": 6.59}, {"t": 6.03, "lo": 5.89, "hi": 6.8}]}, "mark": {"type": "rule", "color": "#ffa500", "strokeWidth": 4.5, "strokeDash": [13, 7], "clip": true},
      "encoding": {"x": {"field": "t", "type": "quantitative", "scale": {"domain": [0, 7], "nice": false}, "axis": null},
       "y": {"field": "lo", "type": "quantitative", "scale": {"domain": [4.785, 10.795], "nice": false, "zero": false}, "axis": {"values": [5, 6, 7, 8, 9, 10], "title": "semimajor axis a [AU]", "titleX": -82, "titleBaseline": "bottom"}}, "y2": {"field": "hi"}}}
    ]},
    {"data": {"values": [{}]}, "mark": {"type": "point", "opacity": 0},
     "encoding": {"y": {"datum": 6, "type": "quantitative", "scale": {"domain": [4.785, 10.795], "nice": false, "zero": false}, "axis": {"orient": "right", "labels": false, "title": null, "values": [5, 6, 7, 8, 9, 10]}}}}
   ],
   "resolve": {"axis": {"y": "independent"}}
  },
  {"width": 988, "height": 428,
   "layer": [
    {"layer": [
     {"data": {"name": "eo"}, "mark": {"type": "area", "color": "#ffa500", "opacity": 0.85, "clip": true},
      "encoding": {"x": {"field": "t", "type": "quantitative", "scale": {"domain": [0, 7], "nice": false}, "axis": null},
       "y": {"field": "lo", "type": "quantitative", "scale": {"domain": [0, 0.07], "nice": false, "zero": false}, "axis": {"values": [0.01, 0.03, 0.05, 0.07], "format": ".2f", "title": "eccentricity e", "titleX": -126, "titleBaseline": "bottom"}},
       "y2": {"field": "hi"}, "detail": {"field": "k"}}},
     {"data": {"name": "eb"}, "mark": {"type": "area", "color": "#0000ff", "clip": true},
      "encoding": {"x": {"field": "t", "type": "quantitative", "scale": {"domain": [0, 7], "nice": false}, "axis": null},
       "y": {"field": "lo", "type": "quantitative", "scale": {"domain": [0, 0.07], "nice": false, "zero": false}, "axis": {"values": [0.01, 0.03, 0.05, 0.07], "format": ".2f", "title": "eccentricity e", "titleX": -126, "titleBaseline": "bottom"}}, "y2": {"field": "hi"}}},
     {"data": {"name": "eg"}, "mark": {"type": "area", "color": "#808080", "clip": true},
      "encoding": {"x": {"field": "t", "type": "quantitative", "scale": {"domain": [0, 7], "nice": false}, "axis": null},
       "y": {"field": "lo", "type": "quantitative", "scale": {"domain": [0, 0.07], "nice": false, "zero": false}, "axis": {"values": [0.01, 0.03, 0.05, 0.07], "format": ".2f", "title": "eccentricity e", "titleX": -126, "titleBaseline": "bottom"}}, "y2": {"field": "hi"}}},
     {"data": {"name": "ep"}, "mark": {"type": "area", "color": "#c080ff", "clip": true},
      "encoding": {"x": {"field": "t", "type": "quantitative", "scale": {"domain": [0, 7], "nice": false}, "axis": null},
       "y": {"field": "lo", "type": "quantitative", "scale": {"domain": [0, 0.07], "nice": false, "zero": false}, "axis": {"values": [0.01, 0.03, 0.05, 0.07], "format": ".2f", "title": "eccentricity e", "titleX": -126, "titleBaseline": "bottom"}}, "y2": {"field": "hi"}}},
     {"data": {"name": "ek"}, "mark": {"type": "area", "color": "#000000", "clip": true},
      "encoding": {"x": {"field": "t", "type": "quantitative", "scale": {"domain": [0, 7], "nice": false}, "axis": null},
       "y": {"field": "lo", "type": "quantitative", "scale": {"domain": [0, 0.07], "nice": false, "zero": false}, "axis": {"values": [0.01, 0.03, 0.05, 0.07], "format": ".2f", "title": "eccentricity e", "titleX": -126, "titleBaseline": "bottom"}}, "y2": {"field": "hi"}}},
     {"data": {"values": [{"t": 5.855, "lo": 0.008, "hi": 0.075}]}, "mark": {"type": "rule", "color": "#c080ff", "strokeWidth": 3, "clip": true},
      "encoding": {"x": {"field": "t", "type": "quantitative", "scale": {"domain": [0, 7], "nice": false}, "axis": null},
       "y": {"field": "lo", "type": "quantitative", "scale": {"domain": [0, 0.07], "nice": false, "zero": false}, "axis": {"values": [0.01, 0.03, 0.05, 0.07], "format": ".2f", "title": "eccentricity e", "titleX": -126, "titleBaseline": "bottom"}}, "y2": {"field": "hi"}}},
     {"data": {"values": [{"t": 6.04, "lo": 0.005, "hi": 0.066}]}, "mark": {"type": "rule", "color": "#ffa500", "strokeWidth": 2, "clip": true},
      "encoding": {"x": {"field": "t", "type": "quantitative", "scale": {"domain": [0, 7], "nice": false}, "axis": null},
       "y": {"field": "lo", "type": "quantitative", "scale": {"domain": [0, 0.07], "nice": false, "zero": false}, "axis": {"values": [0.01, 0.03, 0.05, 0.07], "format": ".2f", "title": "eccentricity e", "titleX": -126, "titleBaseline": "bottom"}}, "y2": {"field": "hi"}}}
    ]},
    {"data": {"values": [{}]}, "mark": {"type": "point", "opacity": 0},
     "encoding": {"y": {"datum": 0.03, "type": "quantitative", "scale": {"domain": [0, 0.07], "nice": false, "zero": false}, "axis": {"orient": "right", "labels": false, "title": null, "values": [0.01, 0.03, 0.05, 0.07]}}}}
   ],
   "resolve": {"axis": {"y": "independent"}}
  },
  {"width": 988, "height": 430,
   "layer": [
    {"layer": [
     {"data": {"name": "ig"}, "mark": {"type": "line", "color": "#808080", "strokeWidth": 18, "strokeJoin": "round", "clip": true},
      "encoding": {"x": {"field": "t", "type": "quantitative", "scale": {"domain": [0, 7], "nice": false}, "axis": {"values": [0, 1, 2, 3, 4, 5, 6, 7], "format": "d", "title": "time t [kyr]", "titleY": 70, "titleBaseline": "top", "labelPadding": 32}},
       "y": {"field": "v", "type": "quantitative", "scale": {"domain": [-0.0087, 0.302], "nice": false, "zero": false}, "axis": {"values": [0, 0.05, 0.1, 0.15, 0.2, 0.25], "format": "~g", "title": "inclination i [deg]", "titleX": -126, "titleBaseline": "bottom"}}}},
     {"data": {"name": "ib"}, "mark": {"type": "line", "color": "#0000ff", "strokeWidth": 16, "strokeJoin": "round", "clip": true},
      "encoding": {"x": {"field": "t", "type": "quantitative", "scale": {"domain": [0, 7], "nice": false}, "axis": {"values": [0, 1, 2, 3, 4, 5, 6, 7], "format": "d", "title": "time t [kyr]", "titleY": 70, "titleBaseline": "top", "labelPadding": 32}},
       "y": {"field": "v", "type": "quantitative", "scale": {"domain": [-0.0087, 0.302], "nice": false, "zero": false}, "axis": {"values": [0, 0.05, 0.1, 0.15, 0.2, 0.25], "format": "~g", "title": "inclination i [deg]", "titleX": -126, "titleBaseline": "bottom"}}}},
     {"data": {"name": "ik"}, "mark": {"type": "line", "color": "#000000", "strokeWidth": 13, "strokeJoin": "round", "clip": true},
      "encoding": {"x": {"field": "t", "type": "quantitative", "scale": {"domain": [0, 7], "nice": false}, "axis": {"values": [0, 1, 2, 3, 4, 5, 6, 7], "format": "d", "title": "time t [kyr]", "titleY": 70, "titleBaseline": "top", "labelPadding": 32}},
       "y": {"field": "v", "type": "quantitative", "scale": {"domain": [-0.0087, 0.302], "nice": false, "zero": false}, "axis": {"values": [0, 0.05, 0.1, 0.15, 0.2, 0.25], "format": "~g", "title": "inclination i [deg]", "titleX": -126, "titleBaseline": "bottom"}}}},
     {"data": {"name": "ip"}, "mark": {"type": "line", "color": "#c080ff", "strokeWidth": 18, "strokeJoin": "round", "clip": true},
      "encoding": {"x": {"field": "t", "type": "quantitative", "scale": {"domain": [0, 7], "nice": false}, "axis": {"values": [0, 1, 2, 3, 4, 5, 6, 7], "format": "d", "title": "time t [kyr]", "titleY": 70, "titleBaseline": "top", "labelPadding": 32}},
       "y": {"field": "v", "type": "quantitative", "scale": {"domain": [-0.0087, 0.302], "nice": false, "zero": false}, "axis": {"values": [0, 0.05, 0.1, 0.15, 0.2, 0.25], "format": "~g", "title": "inclination i [deg]", "titleX": -126, "titleBaseline": "bottom"}}}},
     {"data": {"name": "io"}, "mark": {"type": "area", "color": "#ffa500", "clip": true},
      "encoding": {"x": {"field": "t", "type": "quantitative", "scale": {"domain": [0, 7], "nice": false}, "axis": {"values": [0, 1, 2, 3, 4, 5, 6, 7], "format": "d", "title": "time t [kyr]", "titleY": 70, "titleBaseline": "top", "labelPadding": 32}},
       "y": {"field": "lo", "type": "quantitative", "scale": {"domain": [-0.0087, 0.302], "nice": false, "zero": false}, "axis": {"values": [0, 0.05, 0.1, 0.15, 0.2, 0.25], "format": "~g", "title": "inclination i [deg]", "titleX": -126, "titleBaseline": "bottom"}}, "y2": {"field": "hi"}}},
     {"data": {"values": [{}]}, "mark": {"type": "rule", "color": "black", "strokeWidth": 2},
      "encoding": {"y": {"datum": 0, "type": "quantitative", "scale": {"domain": [-0.0087, 0.302], "nice": false, "zero": false}, "axis": {"values": [0, 0.05, 0.1, 0.15, 0.2, 0.25], "format": "~g", "title": "inclination i [deg]", "titleX": -126, "titleBaseline": "bottom"}}}},
     {"data": {"values": [{"t": 5.855, "lo": 0.1, "hi": 0.31}]}, "mark": {"type": "rule", "color": "black", "strokeWidth": 2, "clip": true},
      "encoding": {"x": {"field": "t", "type": "quantitative", "scale": {"domain": [0, 7], "nice": false}, "axis": {"values": [0, 1, 2, 3, 4, 5, 6, 7], "format": "d", "title": "time t [kyr]", "titleY": 70, "titleBaseline": "top", "labelPadding": 32}},
       "y": {"field": "lo", "type": "quantitative", "scale": {"domain": [-0.0087, 0.302], "nice": false, "zero": false}, "axis": {"values": [0, 0.05, 0.1, 0.15, 0.2, 0.25], "format": "~g", "title": "inclination i [deg]", "titleX": -126, "titleBaseline": "bottom"}}, "y2": {"field": "hi"}}},
     {"data": {"values": [{"t": 5.86, "lo": 0.128, "hi": 0.263}]}, "mark": {"type": "rule", "color": "#c080ff", "strokeWidth": 3, "clip": true},
      "encoding": {"x": {"field": "t", "type": "quantitative", "scale": {"domain": [0, 7], "nice": false}, "axis": {"values": [0, 1, 2, 3, 4, 5, 6, 7], "format": "d", "title": "time t [kyr]", "titleY": 70, "titleBaseline": "top", "labelPadding": 32}},
       "y": {"field": "lo", "type": "quantitative", "scale": {"domain": [-0.0087, 0.302], "nice": false, "zero": false}, "axis": {"values": [0, 0.05, 0.1, 0.15, 0.2, 0.25], "format": "~g", "title": "inclination i [deg]", "titleX": -126, "titleBaseline": "bottom"}}, "y2": {"field": "hi"}}},
     {"data": {"values": [{}]}, "mark": {"type": "text", "text": "without accretion heating", "color": "#ffa500", "font": "Liberation Sans", "fontSize": 44, "align": "center", "baseline": "middle"},
      "encoding": {"x": {"datum": 3.47, "type": "quantitative", "scale": {"domain": [0, 7], "nice": false}, "axis": {"values": [0, 1, 2, 3, 4, 5, 6, 7], "format": "d", "title": "time t [kyr]", "titleY": 70, "titleBaseline": "top", "labelPadding": 32}},
       "y": {"datum": 0.0296, "type": "quantitative", "scale": {"domain": [-0.0087, 0.302], "nice": false, "zero": false}, "axis": {"values": [0, 0.05, 0.1, 0.15, 0.2, 0.25], "format": "~g", "title": "inclination i [deg]", "titleX": -126, "titleBaseline": "bottom"}}}}
    ]},
    {"data": {"values": [{}]}, "mark": {"type": "point", "opacity": 0},
     "encoding": {"x": {"datum": 1, "type": "quantitative", "scale": {"domain": [0, 7], "nice": false}, "axis": {"orient": "top", "labels": false, "title": null, "values": [0, 1, 2, 3, 4, 5, 6, 7]}},
      "y": {"datum": 0.1, "type": "quantitative", "scale": {"domain": [-0.0087, 0.302], "nice": false, "zero": false}, "axis": {"orient": "right", "labels": false, "title": null, "values": [0, 0.05, 0.1, 0.15, 0.2, 0.25]}}}}
   ],
   "resolve": {"axis": {"x": "independent", "y": "independent"}}
  }
 ],
 "spacing": 0,
 "bounds": "flush",
 "resolve": {"scale": {"color": "independent", "strokeDash": "independent"}}
 }
]
}
